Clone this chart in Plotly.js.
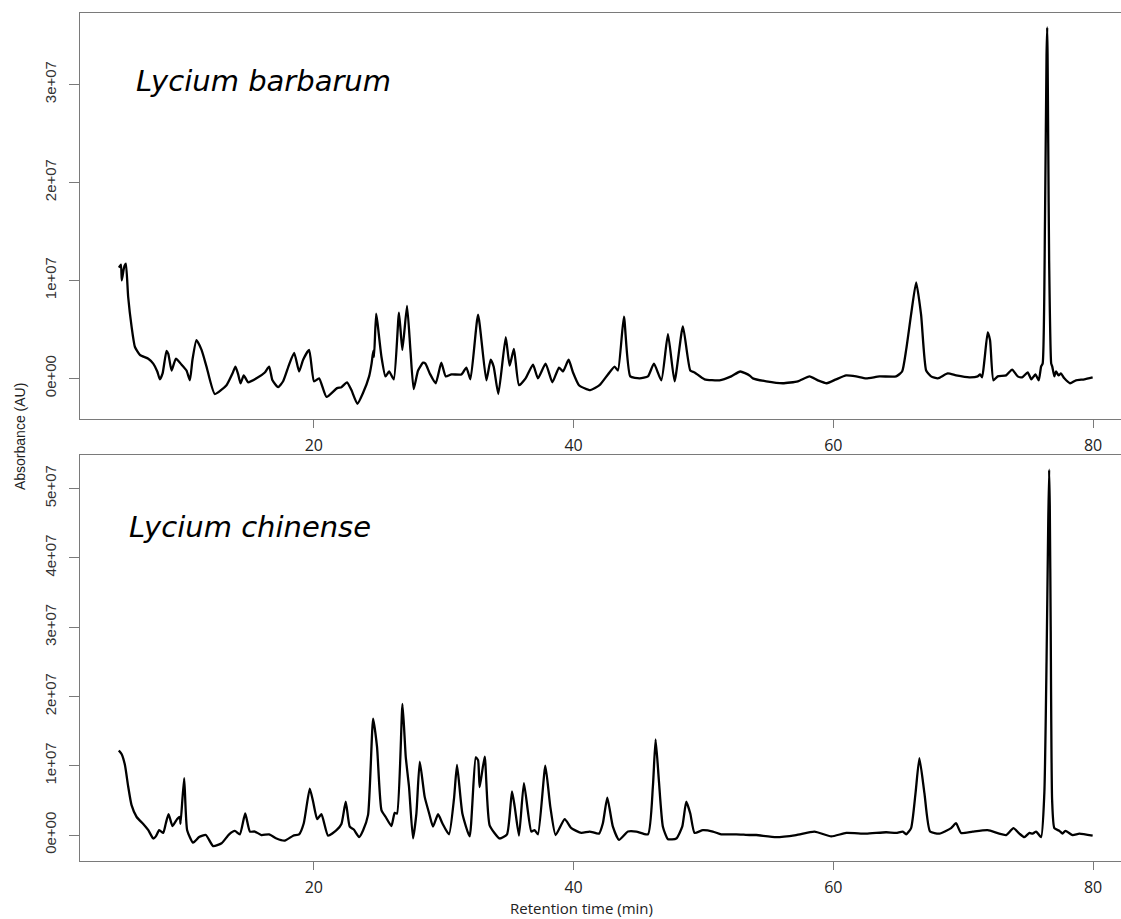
<!DOCTYPE html>
<html>
<head>
<meta charset="utf-8">
<script src="https://cdn.plot.ly/plotly-3.0.1.min.js"></script>
<style>
  html, body { margin: 0; padding: 0; overflow: hidden; background: #fff; }
  #chart { width: 1140px; height: 919px; }
</style>
</head>
<body>
<div id="chart"></div>
<script>
// Retention time (min) and absorbance (AU)
const barbarumTime = [5.00,5.15,5.22,5.36,5.43,5.53,5.71,5.97,6.23,6.61,7.26,7.64,7.95,8.15,8.36,8.66,8.80,9.05,9.38,9.82,10.20,10.46,10.66,10.97,11.36,11.74,12.38,13.28,13.74,13.97,14.18,14.36,14.61,14.95,15.59,16.23,16.56,16.82,17.25,17.64,18.10,18.49,18.87,19.18,19.64,20.02,20.41,20.98,21.80,22.13,22.56,22.90,23.36,23.79,24.26,24.45,24.58,24.64,24.80,24.92,25.21,25.52,25.80,26.16,26.56,26.82,27.18,27.44,27.69,28.03,28.42,28.60,28.93,29.39,29.82,30.16,30.60,31.37,31.75,32.06,32.65,33.29,33.62,33.85,34.21,34.78,35.08,35.41,35.80,36.31,36.88,37.26,37.85,38.37,38.88,39.19,39.62,39.96,40.42,41.29,42.00,42.65,43.16,43.42,43.88,44.37,45.09,45.73,46.19,46.76,47.27,47.78,48.42,48.99,49.32,50.09,51.24,52.14,52.84,53.55,53.81,54.84,56.11,57.27,58.17,58.81,59.50,60.22,60.99,61.76,62.53,63.56,64.84,65.30,65.61,66.00,66.38,66.76,67.15,67.53,68.05,68.81,69.46,70.48,71.12,71.30,71.46,71.65,71.89,72.07,72.33,72.66,73.31,73.77,74.20,74.54,74.97,75.25,75.56,75.82,76.00,76.12,76.30,76.42,76.47,76.50,76.55,76.62,76.78,76.86,77.02,77.15,77.35,77.53,77.79,78.23,78.69,79.33,79.97];
const barbarumAbs = [1.13e7,1.16e7,1.00e7,1.11e7,1.15e7,1.17e7,0.83e7,0.53e7,0.32e7,0.24e7,0.20e7,0.15e7,0.07e7,-0.01e7,0.05e7,0.28e7,0.25e7,0.08e7,0.20e7,0.14e7,0.08e7,-0.02e7,0.19e7,0.39e7,0.29e7,0.12e7,-0.16e7,-0.07e7,0.05e7,0.12e7,0.04e7,-0.05e7,0.03e7,-0.04e7,0.00e7,0.06e7,0.12e7,-0.02e7,-0.09e7,-0.03e7,0.14e7,0.26e7,0.07e7,0.19e7,0.29e7,-0.03e7,0.00e7,-0.19e7,-0.10e7,-0.09e7,-0.04e7,-0.12e7,-0.26e7,-0.15e7,0.02e7,0.15e7,0.28e7,0.22e7,0.66e7,0.55e7,0.22e7,0.02e7,0.07e7,-0.01e7,0.67e7,0.29e7,0.74e7,0.29e7,-0.11e7,0.08e7,0.16e7,0.15e7,0.05e7,-0.05e7,0.16e7,0.02e7,0.04e7,0.04e7,0.11e7,-0.01e7,0.65e7,-0.02e7,0.19e7,0.12e7,-0.16e7,0.42e7,0.13e7,0.30e7,-0.07e7,0.00e7,0.14e7,0.00e7,0.15e7,-0.04e7,0.11e7,0.07e7,0.19e7,0.06e7,-0.07e7,-0.12e7,-0.07e7,0.04e7,0.12e7,0.08e7,0.63e7,0.02e7,0.00e7,0.02e7,0.15e7,-0.02e7,0.45e7,-0.03e7,0.53e7,0.08e7,0.06e7,-0.01e7,-0.02e7,0.02e7,0.07e7,0.03e7,0.00e7,-0.03e7,-0.05e7,-0.03e7,0.02e7,-0.02e7,-0.05e7,-0.01e7,0.03e7,0.02e7,0.00e7,0.02e7,0.02e7,0.07e7,0.29e7,0.66e7,0.98e7,0.65e7,0.08e7,0.02e7,0.00e7,0.05e7,0.03e7,0.01e7,0.02e7,0.04e7,0.01e7,0.20e7,0.47e7,0.39e7,-0.02e7,0.02e7,0.03e7,0.09e7,0.02e7,0.01e7,0.06e7,-0.01e7,0.04e7,-0.02e7,0.12e7,0.15e7,1.60e7,3.30e7,3.58e7,3.30e7,2.40e7,1.20e7,0.15e7,0.12e7,0.02e7,0.07e7,0.03e7,0.05e7,0.00e7,-0.05e7,-0.02e7,-0.01e7,0.01e7];

const chinenseTime = [4.99,5.20,5.46,5.71,5.97,6.36,6.87,7.26,7.64,7.84,8.10,8.41,8.61,8.82,9.12,9.48,9.69,9.74,10.02,10.25,10.71,11.17,11.69,12.25,12.90,13.48,13.92,14.31,14.72,15.08,15.46,15.97,16.56,17.13,17.77,18.41,18.87,19.23,19.69,19.95,20.26,20.59,21.10,21.75,22.13,22.46,22.77,23.08,23.49,23.80,24.18,24.57,24.87,25.21,25.54,25.98,26.23,26.41,26.83,27.08,27.33,27.64,27.90,28.16,28.54,28.90,29.18,29.57,29.90,30.41,30.80,31.03,31.44,32.00,32.47,32.65,32.77,33.16,33.54,34.31,34.88,35.26,35.47,35.80,36.18,36.75,37.00,37.26,37.83,38.21,38.62,39.32,39.83,40.60,41.24,41.96,42.26,42.60,43.03,43.50,44.19,44.83,45.73,46.11,46.32,46.57,46.88,47.27,47.91,48.37,48.68,48.99,49.32,49.96,50.73,51.37,52.53,53.55,54.07,55.61,57.14,58.55,59.84,60.99,62.53,64.07,64.84,65.35,65.61,65.99,66.33,66.63,67.02,67.45,68.17,69.07,69.45,69.84,70.73,71.89,73.31,73.87,74.33,74.71,75.10,75.35,75.62,76.00,76.25,76.42,76.55,76.62,76.67,76.74,76.85,77.02,77.41,77.65,77.87,78.43,78.95,79.97];
const chinenseAbs = [1.22e7,1.17e7,1.01e7,0.70e7,0.43e7,0.26e7,0.16e7,0.07e7,-0.05e7,-0.02e7,0.07e7,0.03e7,0.17e7,0.30e7,0.13e7,0.23e7,0.26e7,0.16e7,0.82e7,0.07e7,-0.11e7,-0.03e7,0.00e7,-0.16e7,-0.12e7,0.01e7,0.06e7,0.01e7,0.31e7,0.05e7,0.05e7,0.00e7,0.01e7,-0.05e7,-0.08e7,-0.01e7,0.01e7,0.17e7,0.67e7,0.48e7,0.23e7,0.30e7,-0.01e7,0.07e7,0.16e7,0.48e7,0.12e7,0.08e7,-0.03e7,0.07e7,0.29e7,1.68e7,1.27e7,0.36e7,0.26e7,0.13e7,0.32e7,0.31e7,1.89e7,1.13e7,0.70e7,-0.05e7,0.31e7,1.06e7,0.55e7,0.30e7,0.12e7,0.30e7,0.17e7,0.01e7,0.53e7,1.01e7,0.31e7,-0.02e7,1.12e7,1.08e7,0.69e7,1.13e7,0.14e7,-0.05e7,0.01e7,0.63e7,0.41e7,-0.01e7,0.75e7,0.05e7,0.07e7,0.01e7,1.00e7,0.41e7,0.00e7,0.23e7,0.10e7,0.03e7,0.05e7,0.02e7,0.17e7,0.54e7,0.12e7,-0.07e7,0.05e7,0.05e7,0.01e7,0.70e7,1.38e7,0.79e7,0.12e7,-0.06e7,-0.05e7,0.12e7,0.48e7,0.31e7,0.03e7,0.07e7,0.05e7,0.01e7,0.01e7,0.00e7,0.00e7,-0.03e7,0.00e7,0.05e7,-0.02e7,0.03e7,0.02e7,0.04e7,0.03e7,0.05e7,0.01e7,0.10e7,0.60e7,1.11e7,0.60e7,0.05e7,0.02e7,0.10e7,0.17e7,0.03e7,0.05e7,0.07e7,0.00e7,0.10e7,0.02e7,-0.03e7,0.03e7,0.02e7,0.05e7,-0.03e7,0.60e7,2.50e7,4.50e7,5.27e7,4.74e7,3.00e7,0.50e7,0.10e7,0.06e7,0.02e7,0.06e7,0.00e7,0.02e7,-0.01e7];

const xTickVals = [20, 40, 60, 80];
const xTickText = ['20', '40', '60', '80'];
const yTopTickVals = [0, 1e7, 2e7, 3e7];
const yTopTickText = ['0e+00', '1e+07', '2e+07', '3e+07'];
const yBotTickVals = [0, 1e7, 2e7, 3e7, 4e7, 5e7];
const yBotTickText = ['0e+00', '1e+07', '2e+07', '3e+07', '4e+07', '5e+07'];
const speciesLabels = ['Lycium barbarum', 'Lycium chinense'];
const xTitle = 'Retention time (min)';
const yTitle = 'Absorbance (AU)';

const lineStyle = { color: '#000', width: 2.3, shape: 'spline', smoothing: 0.5 };
const traces = [
  { x: barbarumTime, y: barbarumAbs, type: 'scatter', mode: 'lines', line: lineStyle, xaxis: 'x', yaxis: 'y', hoverinfo: 'skip' },
  { x: chinenseTime, y: chinenseAbs, type: 'scatter', mode: 'lines', line: lineStyle, xaxis: 'x2', yaxis: 'y2', hoverinfo: 'skip' }
];

const axisCommon = {
  showgrid: false, zeroline: false, showline: true, mirror: true,
  linecolor: '#7a7a7a', linewidth: 1, ticks: 'outside', tickcolor: '#7a7a7a', tickwidth: 1
};
const xCommon = Object.assign({}, axisCommon, {
  range: [2, 83], tickmode: 'array', tickvals: xTickVals, ticktext: xTickText, ticklen: 8,
  ticklabelstandoff: 4,
  tickfont: { family: 'Open Sans, sans-serif', size: 16, color: '#222' }
});
const yCommon = Object.assign({}, axisCommon, {
  tickmode: 'array', ticklen: 10, tickangle: -90, ticklabelstandoff: 7,
  tickfont: { family: 'Liberation Sans, Arial, sans-serif', size: 15, color: '#333' }
});

const layout = {
  width: 1140, height: 919,
  margin: { l: 80, r: 8, t: 13, b: 58 },
  paper_bgcolor: '#fff', plot_bgcolor: '#fff',
  showlegend: false,
  xaxis: Object.assign({}, xCommon, { anchor: 'y', domain: [0, 1] }),
  yaxis: Object.assign({}, yCommon, { domain: [0.5212, 1], range: [-0.415e7, 3.728e7], tickvals: yTopTickVals, ticktext: yTopTickText, anchor: 'x' }),
  xaxis2: Object.assign({}, xCommon, { anchor: 'y2', domain: [0, 1] }),
  yaxis2: Object.assign({}, yCommon, { domain: [0, 0.4791], range: [-0.375e7, 5.487e7], tickvals: yBotTickVals, ticktext: yBotTickText, anchor: 'x2' }),
  annotations: [
    { text: speciesLabels[0], xref: 'paper', yref: 'paper', x: 0.0515, y: 0.9198, xanchor: 'left', yanchor: 'middle', showarrow: false,
      font: { family: 'DejaVu Sans, sans-serif', size: 29, style: 'italic', color: '#000' } },
    { text: speciesLabels[1], xref: 'paper', yref: 'paper', x: 0.0448, y: 0.3939, xanchor: 'left', yanchor: 'middle', showarrow: false,
      font: { family: 'DejaVu Sans, sans-serif', size: 29, style: 'italic', color: '#000' } },
    { text: xTitle, xref: 'paper', yref: 'paper', x: 0.477, y: -0.0560, xanchor: 'center', yanchor: 'middle', showarrow: false, borderpad: 0,
      font: { family: 'Open Sans, sans-serif', size: 15, color: '#222' } },
    { text: yTitle, xref: 'paper', yref: 'paper', x: -0.057, y: 0.5, xanchor: 'center', yanchor: 'middle', textangle: -90, showarrow: false,
      font: { family: 'Liberation Sans, Arial, sans-serif', size: 14, color: '#222' } }
  ]
};

Plotly.newPlot('chart', traces, layout, { displayModeBar: false, staticPlot: true });
</script>
</body>
</html>
